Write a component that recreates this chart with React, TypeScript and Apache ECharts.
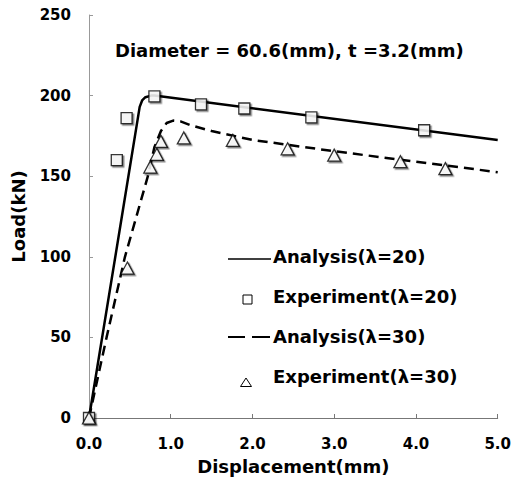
import React, { useEffect, useRef } from "react";
import * as echarts from "echarts";

const titleText = "Diameter = 60.6(mm), t =3.2(mm)";
const xName = "Displacement(mm)";
const yName = "Load(kN)";
const legendNames = ["Analysis(λ=20)", "Experiment(λ=20)", "Analysis(λ=30)", "Experiment(λ=30)"];

const analysis20: [number, number][] = [
  [0, 0], [0.415, 129], [0.62, 193], [0.65, 197], [0.69, 199], [0.76, 200], [0.8, 200], [5.0, 172.5],
];
const experiment20: [number, number][] = [
  [0, 0], [0.34, 160], [0.46, 186], [0.8, 199.5], [1.37, 194.5], [1.9, 192], [2.72, 186.5], [4.1, 178.5],
];
const analysis30: [number, number][] = [
  [0, 0], [0.215, 50], [0.44, 100], [0.72, 150], [0.8, 168], [0.88, 178], [0.95, 183], [1.03, 184.5],
  [1.12, 184], [1.25, 181.5], [1.5, 178], [2.0, 172.5], [3.0, 165.5], [4.0, 159], [5.0, 152.5],
];
const experiment30: [number, number][] = [
  [0, 0], [0.47, 93], [0.75, 155.7], [0.83, 163.6], [0.88, 171.6], [1.16, 173.7], [1.76, 172.2],
  [2.43, 167], [3.0, 163], [3.81, 159], [4.36, 154.7],
];

const FONT = "DejaVu Sans";

export default function App() {
  const ref = useRef<HTMLDivElement>(null);
  useEffect(() => {
    if (!ref.current) return;
    const chart = echarts.init(ref.current, null, { renderer: "svg" });
    const markerStyle = {
      color: "#fff",
      borderColor: "#000",
      borderWidth: 1.3,
      shadowColor: "rgba(0,0,0,0.55)",
      shadowBlur: 0,
      shadowOffsetX: 1.5,
      shadowOffsetY: 1.5,
    };
    const legendText = (i: number, y: number) => ({
      type: "text",
      left: 273,
      top: y - 11,
      style: {
        text: legendNames[i],
        font: `bold 18px "${FONT}"`,
        fill: "#000",
      },
    });
    chart.setOption({
      animation: false,
      backgroundColor: "#fff",
      title: {
        text: titleText,
        left: 110,
        top: 36,
        textStyle: { fontFamily: FONT, fontSize: 18, fontWeight: "bold", color: "#000" },
      },
      grid: { left: 89, right: 16, top: 15, bottom: 70 },
      xAxis: {
        type: "value",
        min: 0,
        max: 5,
        interval: 1,
        name: xName,
        nameLocation: "middle",
        nameGap: 39,
        nameTextStyle: { fontFamily: FONT, fontSize: 18, fontWeight: "bold", color: "#000" },
        axisLine: { show: true, lineStyle: { color: "#777", width: 1 } },
        axisTick: { show: true, inside: true, length: 4, lineStyle: { color: "#777" } },
        splitLine: { show: false },
        axisLabel: {
          margin: 18,
          fontFamily: FONT,
          fontSize: 15,
          fontWeight: "bold",
          color: "#000",
          formatter: (v: number) => v.toFixed(1),
        },
      },
      yAxis: {
        type: "value",
        min: 0,
        max: 250,
        interval: 50,
        name: yName,
        nameLocation: "middle",
        nameGap: 62,
        nameTextStyle: { fontFamily: FONT, fontSize: 18, fontWeight: "bold", color: "#000" },
        axisLine: { show: true, lineStyle: { color: "#999", width: 1 } },
        axisTick: { show: true, inside: true, length: 4, lineStyle: { color: "#999" } },
        splitLine: { show: false },
        axisLabel: { margin: 18, fontFamily: FONT, fontSize: 15, fontWeight: "bold", color: "#000" },
      },
      series: [
        {
          name: legendNames[0],
          type: "line",
          data: analysis20,
          showSymbol: false,
          lineStyle: { color: "#000", width: 2.5 },
          z: 2,
        },
        {
          name: legendNames[2],
          type: "line",
          data: analysis30,
          showSymbol: false,
          lineStyle: { color: "#000", width: 2.5, type: [10, 6] },
          z: 2,
        },
        {
          name: legendNames[1],
          type: "scatter",
          data: experiment20,
          symbol: "rect",
          symbolSize: 11,
          itemStyle: markerStyle,
          z: 3,
        },
        {
          name: legendNames[3],
          type: "scatter",
          data: experiment30,
          symbol: "triangle",
          symbolSize: [13, 12],
          itemStyle: markerStyle,
          z: 3,
        },
      ],
      graphic: [
        { type: "line", shape: { x1: 228, y1: 259, x2: 271, y2: 259 }, style: { stroke: "#000", lineWidth: 1.5 } },
        legendText(0, 258),
        { type: "rect", shape: { x: 243, y: 295, width: 9, height: 9 }, style: { fill: "#fff", stroke: "#000", lineWidth: 1 } },
        legendText(1, 298),
        { type: "line", shape: { x1: 228, y1: 337, x2: 245, y2: 337 }, style: { stroke: "#000", lineWidth: 2 } },
        { type: "line", shape: { x1: 252, y1: 337, x2: 270, y2: 337 }, style: { stroke: "#000", lineWidth: 2 } },
        legendText(2, 338),
        { type: "polygon", shape: { points: [[246, 378], [251.5, 386.5], [240.5, 386.5]] }, style: { fill: "#fff", stroke: "#000", lineWidth: 1 } },
        legendText(3, 378),
      ],
    });
    return () => chart.dispose();
  }, []);
  return <div ref={ref} style={{ width: 514, height: 488, position: "absolute", left: 0, top: 0 }} />;
}
